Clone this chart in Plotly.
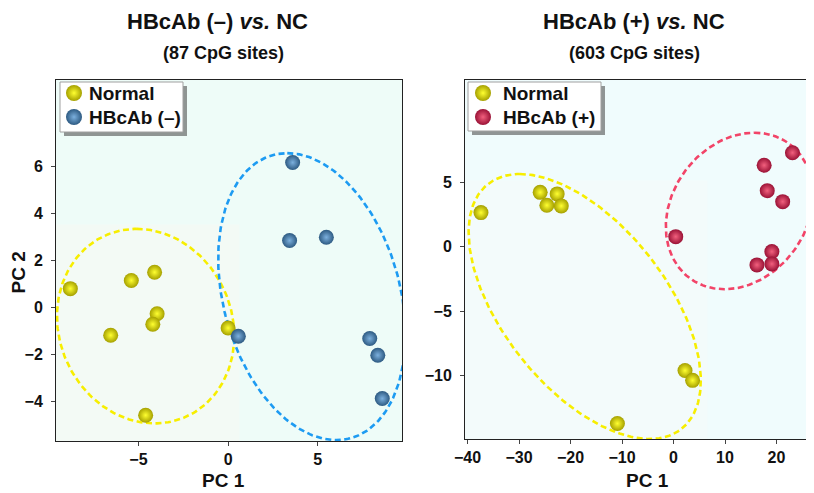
import numpy as np
import plotly.graph_objects as go

# ---------------- data ----------------
# Left panel: HBcAb (-) vs NC
left_normal_x = [-8.8, -5.4, -4.1, -3.96, -4.2, -6.55, 0.0, -4.6]
left_normal_y = [0.8, 1.15, 1.5, -0.27, -0.72, -1.19, -0.88, -4.6]
left_neg_x = [3.6, 3.43, 5.48, 0.57, 7.9, 8.35, 8.6]
left_neg_y = [6.18, 2.85, 2.99, -1.23, -1.33, -2.04, -3.89]

# Right panel: HBcAb (+) vs NC
right_normal_x = [-37.4, -25.9, -22.6, -24.6, -21.8, 2.23, 3.7, -10.9]
right_normal_y = [2.63, 4.2, 4.08, 3.2, 3.15, -9.6, -10.36, -13.7]
right_pos_x = [23.1, 17.6, 18.2, 21.2, 0.43, 19.1, 16.2, 19.1]
right_pos_y = [7.27, 6.3, 4.33, 3.48, 0.77, -0.39, -1.42, -1.34]

# confidence ellipses: centre (cx, cy), x = cx + p cos t + q sin t, y = cy + h cos t
ell_left_normal = [-4.6, -0.8, -0.5, 4.92, 4.15]
ell_left_neg = [4.67, 0.46, -1.37, 5.04, 6.12]
ell_right_normal = [-17.25, -4.64, -12.6, 18.7, 10.26]
ell_right_pos = [12.8, 2.76, 2.9, 14.0, 6.06]

left_xticks = [-5, 0, 5]
left_yticks = [-4, -2, 0, 2, 4, 6]
right_xticks = [-40, -30, -20, -10, 0, 10, 20]
right_yticks = [-10, -5, 0, 5]

titles = ["HBcAb (–) <i>vs.</i> NC", "HBcAb (+) <i>vs.</i> NC"]
subtitles = ["(87 CpG sites)", "(603 CpG sites)"]
names = ["Normal", "HBcAb (–)", "Normal", "HBcAb (+)"]

# ---------------- style ----------------
PAGE_W, PAGE_H = 814, 493
OFF = 8  # default page body margin
W, H = PAGE_W - OFF, PAGE_H - OFF
FONT = "Liberation Sans, Arial, sans-serif"
YEL = dict(e="#a5a000", c="#ffff30")
BLU = dict(e="#2d5a82", c="#7cb0de")
RED = dict(e="#9a1236", c="#f2607e")
ELL_Y = "#f7ee00"
ELL_B = "#1d9bf2"
ELL_R = "#f24468"

L = dict(l=56, r=402, t=80, b=441)
R = dict(l=465, r=811, t=80, b=439)


def px(v):
    return (v - OFF) / W


def py(v):
    return 1 - (v - OFF) / H


def ellipse(par):
    cx, cy, p, q, h = par
    t = np.linspace(0, 2 * np.pi, 241)
    return cx + p * np.cos(t) + q * np.sin(t), cy + h * np.cos(t)


fig = go.Figure()


def add_ell(par, color, xa, ya):
    ex, ey = ellipse(par)
    fig.add_trace(go.Scatter(x=ex, y=ey, mode="lines", xaxis=xa, yaxis=ya,
                             line=dict(color=color, width=2.6, dash="6px,3.5px"),
                             showlegend=False, hoverinfo="skip"))


def sphere(col, size):
    return dict(size=size, color=col["e"],
                gradient=dict(type="radial", color=col["c"]),
                line=dict(width=0))


def add_pts(x, y, col, name, xa, ya):
    fig.add_trace(go.Scatter(x=x, y=y, mode="markers", name=name, xaxis=xa, yaxis=ya,
                             marker=sphere(col, 15), showlegend=False))


add_ell(ell_left_normal, ELL_Y, "x", "y")
add_ell(ell_left_neg, ELL_B, "x", "y")
add_ell(ell_right_normal, ELL_Y, "x2", "y2")
add_ell(ell_right_pos, ELL_R, "x2", "y2")

add_pts(left_normal_x, left_normal_y, YEL, names[0], "x", "y")
add_pts(left_neg_x, left_neg_y, BLU, names[1], "x", "y")
add_pts(right_normal_x, right_normal_y, YEL, names[2], "x2", "y2")
add_pts(right_pos_x, right_pos_y, RED, names[3], "x2", "y2")

tickfont = dict(family=FONT, size=16, color="#111", weight="bold")
axis_common = dict(showgrid=False, zeroline=False, showline=True, mirror=True,
                   linecolor="#222", linewidth=1, ticks="outside", ticklen=4,
                   tickcolor="#444", tickfont=tickfont, automargin=False)
hidden = dict(visible=False, showgrid=False, zeroline=False, automargin=False, fixedrange=True)

fig.update_layout(
    width=W, height=H, margin=dict(l=0, r=0, t=0, b=0, autoexpand=False),
    paper_bgcolor="white", plot_bgcolor="#eefcf8",
    font=dict(family=FONT, color="#111"),
    showlegend=False,
    xaxis=dict(domain=[px(L["l"]), px(L["r"])], range=[-9.6, 9.7],
               tickvals=left_xticks, anchor="y", **axis_common),
    yaxis=dict(domain=[py(L["b"]), py(L["t"])], range=[-5.7, 9.7],
               tickvals=left_yticks, anchor="x", ticklabelstandoff=5, **axis_common),
    xaxis2=dict(domain=[px(R["l"]), px(R["r"])], range=[-40.5, 26.7],
                tickvals=right_xticks, anchor="y2", **axis_common),
    yaxis2=dict(domain=[py(R["b"]), py(R["t"])], range=[-14.9, 12.9],
                tickvals=right_yticks, anchor="x2", ticklabelstandoff=5, **axis_common),
    # pixel-unit overlay axes for the legend boxes
    xaxis3=dict(overlaying="x", range=[L["l"], L["r"]], anchor="y3", **hidden),
    yaxis3=dict(overlaying="y", range=[L["b"], L["t"]], anchor="x3", **hidden),
    xaxis4=dict(overlaying="x2", range=[R["l"], R["r"]], anchor="y4", **hidden),
    yaxis4=dict(overlaying="y2", range=[R["b"], R["t"]], anchor="x4", **hidden),
)

# right panel background colour (slightly bluer)
fig.add_shape(type="rect", xref="x2 domain", yref="y2 domain", x0=0, x1=1, y0=0, y1=1,
              fillcolor="#f0fcfd", line=dict(width=0), layer="below")
# subtle lighter patches
fig.add_shape(type="rect", xref="x domain", yref="y domain", x0=0, x1=0.53, y0=0, y1=0.6,
              fillcolor="#f3faf5", line=dict(width=0), layer="below")
fig.add_shape(type="rect", xref="x2 domain", yref="y2 domain", x0=0, x1=0.7, y0=0, y1=0.72,
              fillcolor="#f3fbfb", line=dict(width=0), layer="below")

# ---- manual legends (box, shadow, keys, labels) ----
legends = [
    dict(xa="x3", ya="y3", box=(60, 183, 82, 132), kx=74, tx=87,
         items=[(names[0], YEL), (names[1], BLU)]),
    dict(xa="x4", ya="y4", box=(468, 601, 82, 131), kx=483, tx=501,
         items=[(names[2], YEL), (names[3], RED)]),
]
row_y = [93, 117]
ann = []
for lg in legends:
    x0, x1, y0, y1 = lg["box"]
    fig.add_shape(type="rect", xref=lg["xa"], yref=lg["ya"], x0=x0 + 4, x1=x1 + 4,
                  y0=y0 + 4, y1=y1 + 4, fillcolor="rgba(80,80,80,0.6)",
                  line=dict(width=0), layer="below")
    fig.add_shape(type="rect", xref=lg["xa"], yref=lg["ya"], x0=x0, x1=x1, y0=y0, y1=y1,
                  fillcolor="white", line=dict(width=1, color="#a0a0a0"), layer="below")
    for (nm, col), ry in zip(lg["items"], row_y):
        fig.add_trace(go.Scatter(x=[lg["kx"]], y=[ry], mode="markers", xaxis=lg["xa"],
                                 yaxis=lg["ya"], marker=sphere(col, 16), showlegend=False,
                                 hoverinfo="skip"))
        ann.append(dict(x=lg["tx"], y=ry, xref=lg["xa"], yref=lg["ya"], text="<b>" + nm + "</b>",
                        showarrow=False, xanchor="left", yanchor="middle",
                        font=dict(family=FONT, size=19, color="#111")))

for cx, t, s in [(217, titles[0], subtitles[0]), (634, titles[1], subtitles[1])]:
    ann.append(dict(x=px(cx), y=py(21), text="<b>" + t + "</b>", showarrow=False,
                    xref="paper", yref="paper", xanchor="center", yanchor="middle",
                    font=dict(family=FONT, size=22, color="#111")))
    ann.append(dict(x=px(cx + 6 if cx < 400 else cx), y=py(53), text="<b>" + s + "</b>",
                    showarrow=False, xref="paper", yref="paper", xanchor="center",
                    yanchor="middle", font=dict(family=FONT, size=18, color="#111")))
for cx in [224, 647]:
    ann.append(dict(x=px(cx), y=py(480), text="<b>PC 1</b>", showarrow=False,
                    xref="paper", yref="paper", xanchor="center", yanchor="middle",
                    font=dict(family=FONT, size=19, color="#111")))
ann.append(dict(x=px(17.5), y=py(273), text="<b>PC 2</b>", showarrow=False, textangle=-90,
                xref="paper", yref="paper", xanchor="center", yanchor="middle",
                font=dict(family=FONT, size=19, color="#111")))
fig.update_layout(annotations=ann)

fig.write_html("out.html")
